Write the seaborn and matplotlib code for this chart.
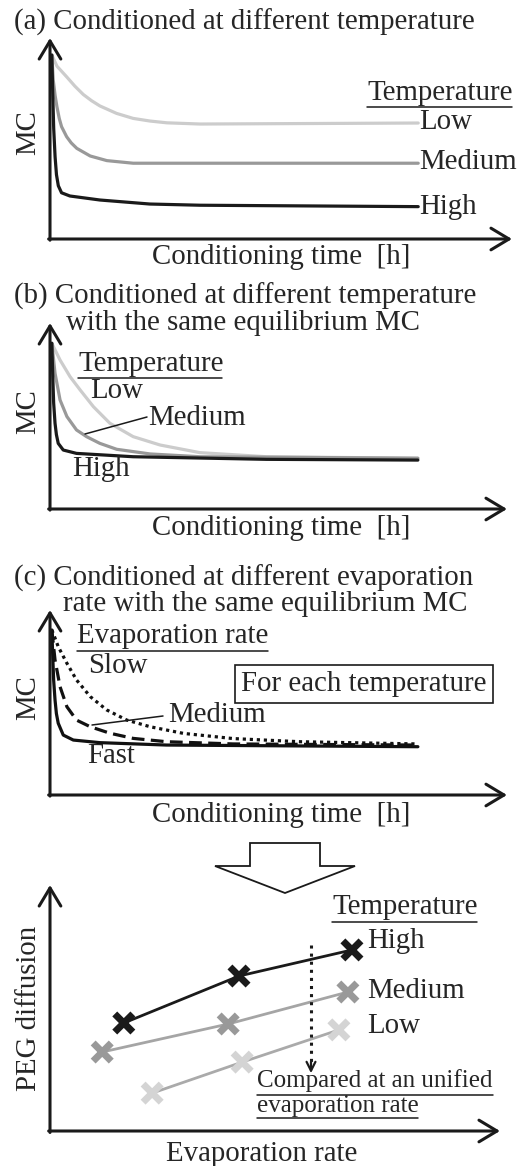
import numpy as np
import pandas as pd
import matplotlib
matplotlib.use("Agg")
import matplotlib.pyplot as plt
import seaborn as sns
from matplotlib.lines import Line2D
from matplotlib.patches import Polygon

# ---------------- data ----------------
# Panel (a): MC vs conditioning time at different temperature
a_low_t = [0.4, 1.5, 3.6, 5.4, 7.2, 9.0, 10.8, 14.4, 18.0, 21.6, 25.3, 32.5, 79.7]
a_low_mc = [91.5, 86.0, 80.7, 76.0, 71.9, 68.8, 66.2, 62.5, 60.0, 58.7, 57.8, 57.2, 57.7]
a_med_t = [0.4, 0.7, 1.1, 1.5, 2.0, 2.5, 3.6, 4.6, 5.8, 8.7, 12.3, 18.0, 79.7]
a_med_mc = [91.5, 79.1, 71.5, 65.8, 60.0, 55.9, 50.9, 47.8, 45.1, 41.3, 39.0, 37.7, 37.7]
a_high_t = [0.4, 0.6, 0.8, 1.1, 1.4, 1.8, 2.5, 4.3, 10.8, 21.6, 32.5, 79.7]
a_high_mc = [91.5, 72.0, 55.0, 40.9, 32.0, 26.5, 23.0, 21.4, 19.4, 17.4, 16.8, 16.1]

# Panel (b): same equilibrium MC
b_low_t = [0.4, 2.2, 4.4, 6.6, 9.5, 13.1, 18.2, 24.1, 32.8, 47.4, 80.5]
b_low_mc = [89.1, 80.1, 71.1, 64.0, 55.0, 46.1, 38.9, 34.4, 30.3, 28.1, 27.3]
b_med_t = [0.4, 1.1, 2.2, 3.7, 5.8, 8.0, 10.9, 14.6, 21.9, 32.8, 80.5]
b_med_mc = [89.1, 73.0, 58.6, 49.7, 42.5, 38.9, 35.3, 32.1, 29.6, 28.1, 27.3]
b_high_t = [0.4, 0.6, 0.8, 1.1, 1.4, 1.8, 2.9, 5.8, 18.2, 47.4, 80.5]
b_high_mc = [89.1, 72.0, 57.0, 46.1, 40.0, 35.3, 31.7, 29.9, 28.1, 26.7, 26.3]

# Panel (c): different evaporation rate
c_slow_t = [0.4, 0.7, 1.8, 3.7, 5.8, 8.8, 12.4, 16.8, 21.9, 29.2, 40.1, 54.7, 80.5]
c_slow_mc = [89.2, 87.4, 80.2, 71.2, 62.2, 53.2, 46.0, 40.5, 36.9, 33.3, 30.5, 28.8, 27.6]
c_med_t = [0.4, 1.1, 2.2, 3.7, 5.8, 8.8, 13.1, 18.2, 25.5, 40.1, 80.5]
c_med_mc = [89.2, 73.0, 58.5, 47.7, 40.5, 36.9, 33.4, 30.6, 28.8, 27.6, 27.0]
c_fast_t = [0.4, 0.6, 0.8, 1.1, 1.4, 1.8, 2.9, 5.1, 10.9, 25.5, 80.5]
c_fast_mc = [89.2, 75.0, 62.0, 51.4, 44.0, 38.8, 32.4, 29.7, 28.3, 27.0, 26.1]

# Panel (d): PEG diffusion vs evaporation rate
d_high_rate = [16.4, 42.0, 67.1]
d_high_peg = [43.9, 63.0, 73.6]
d_med_rate = [11.6, 39.6, 66.2]
d_med_peg = [32.1, 43.5, 56.5]
d_low_rate = [22.7, 42.7, 64.2]
d_low_peg = [15.4, 28.0, 41.1]
unified_rate = 58.0

temps = ["Low", "Medium", "High"]
rates = ["Slow", "Medium", "Fast"]

# ---------------- styling ----------------
sns.set_theme(style="white")
plt.rcParams["font.family"] = ["Liberation Serif", "DejaVu Serif"]
W, H = 532, 1166
fig = plt.figure(figsize=(W / 100, H / 100), dpi=100)
fig.patch.set_facecolor("white")

FS = 20.8
temp_pal = {"Low": "#cccccc", "Medium": "#999999", "High": "#1a1a1a"}


def px_axes(x0, yb, x1, yt):
    ax = fig.add_axes([x0 / W, 1 - yb / H, (x1 - x0) / W, (yb - yt) / H])
    ax.set_xlim(0, 100)
    ax.set_ylim(0, 100)
    ax.axis("off")
    # axis arrows
    ax.annotate("", xy=(100, 0), xytext=(-0.3, 0),
                arrowprops=dict(arrowstyle="->,head_length=0.5,head_width=0.3", lw=2.2,
                                color="k", mutation_scale=26, shrinkA=0, shrinkB=0))
    ax.annotate("", xy=(0, 100), xytext=(0, -0.6),
                arrowprops=dict(arrowstyle="->,head_length=0.5,head_width=0.3", lw=2.2,
                                color="k", mutation_scale=26, shrinkA=0, shrinkB=0))
    return ax


def ftext(x, y, s, **kw):
    kw.setdefault("fontsize", FS)
    kw.setdefault("va", "center")
    kw.setdefault("ha", "left")
    return fig.text(x / W, 1 - y / H, s, **kw)


def fline(x0, y0, x1, y1, lw=1.1, **kw):
    fig.add_artist(Line2D([x0 / W, x1 / W], [1 - y0 / H, 1 - y1 / H], color="k", lw=lw, **kw))


def long_df(ts, vs, names, key):
    rows = []
    for t, v, n in zip(ts, vs, names):
        for ti, vi in zip(t, v):
            rows.append({"t": ti, "mc": vi, key: n})
    return pd.DataFrame(rows)


# ---------------- panel (a) ----------------
ax = px_axes(50, 239, 512, 38)
dfa = long_df([a_low_t, a_med_t, a_high_t], [a_low_mc, a_med_mc, a_high_mc], temps, "Temperature")
sns.lineplot(data=dfa, x="t", y="mc", hue="Temperature", palette=temp_pal, estimator=None,
             sort=False, lw=2.3, legend=False, ax=ax, clip_on=False)
ftext(14, 22, "(a) Conditioned at different temperature")
ftext(28, 133, "MC", rotation=90, ha="center")
ftext(281, 257, "Conditioning time  [h]", ha="center")
ftext(367, 93, "Temperature")
fline(367, 107, 512, 107)
ftext(419, 122, "Low")
ftext(419, 162, "Medium")
ftext(419, 207, "High")

# ---------------- panel (b) ----------------
ax = px_axes(50, 509, 507, 323)
dfb = long_df([b_low_t, b_med_t, b_high_t], [b_low_mc, b_med_mc, b_high_mc], temps, "Temperature")
sns.lineplot(data=dfb, x="t", y="mc", hue="Temperature", palette=temp_pal, estimator=None,
             sort=False, lw=2.3, legend=False, ax=ax, clip_on=False)
ftext(14, 296, "(b) Conditioned at different temperature")
ftext(66, 323, "with the same equilibrium MC")
ftext(28, 412, "MC", rotation=90, ha="center")
ftext(281, 528, "Conditioning time  [h]", ha="center")
ftext(78, 364, "Temperature")
fline(78, 378, 222, 378)
ftext(90, 391, "Low")
ftext(148, 418, "Medium")
fline(85, 434, 147, 417)
ftext(72, 469, "High")

# ---------------- panel (c) ----------------
ax = px_axes(50, 795, 507, 610)
dfc = long_df([c_slow_t, c_med_t, c_fast_t], [c_slow_mc, c_med_mc, c_fast_mc], rates, "Rate")
sns.lineplot(data=dfc, x="t", y="mc", style="Rate", color="#111111",
             dashes={"Slow": (1, 1.2), "Medium": (4, 2), "Fast": ""},
             estimator=None, sort=False, lw=2.3, legend=False, ax=ax, clip_on=False)
ftext(14, 578, "(c) Conditioned at different evaporation")
ftext(63, 604, "rate with the same equilibrium MC")
ftext(28, 698, "MC", rotation=90, ha="center")
ftext(281, 815, "Conditioning time  [h]", ha="center")
ftext(77, 636, "Evaporation rate")
fline(77, 651, 268, 651)
ftext(88, 666, "Slow")
ftext(168, 715, "Medium")
fline(92, 725, 163, 716)
ftext(87, 756, "Fast")
ftext(364, 684, "For each temperature", ha="center",
      bbox=dict(boxstyle="square,pad=0.2", fc="white", ec="k", lw=1.2))

# ---------------- block arrow ----------------
arrow_pts = [(250, 843), (320, 843), (320, 866), (355, 866), (285, 893),
             (215, 866), (250, 866)]
fig.add_artist(Polygon([(x / W, 1 - y / H) for x, y in arrow_pts], closed=True,
                       fc="white", ec="k", lw=1.3, transform=fig.transFigure))

# ---------------- panel (d) ----------------
ax = px_axes(50, 1131, 500, 885)
dfd = pd.DataFrame({
    "rate": d_high_rate + d_med_rate + d_low_rate,
    "peg": d_high_peg + d_med_peg + d_low_peg,
    "Temperature": ["High"] * 3 + ["Medium"] * 3 + ["Low"] * 3,
})
line_pal = {"High": "#1a1a1a", "Medium": "#a5a5a5", "Low": "#aaaaaa"}
mark_pal = {"High": "#1a1a1a", "Medium": "#999999", "Low": "#d4d4d4"}
sns.lineplot(data=dfd, x="rate", y="peg", hue="Temperature", palette=line_pal,
             estimator=None, sort=False, lw=2.0, legend=False, ax=ax)
sns.scatterplot(data=dfd, x="rate", y="peg", hue="Temperature", palette=mark_pal,
                marker="x", s=170, linewidth=5, legend=False, ax=ax, zorder=3)
ax.plot([unified_rate, unified_rate], [75.6, 27], ls=":", lw=2.2, color="k")
ax.annotate("", xy=(unified_rate, 23.5), xytext=(unified_rate, 28),
            arrowprops=dict(arrowstyle="->", lw=1.6, color="k", mutation_scale=16,
                            shrinkA=0, shrinkB=0))
ftext(29, 1008, "PEG diffusion", rotation=90, ha="center")
ftext(262, 1154, "Evaporation rate", ha="center")
ftext(332, 907, "Temperature")
fline(332, 922, 477, 922)
ftext(367, 941, "High")
ftext(367, 991, "Medium")
ftext(367, 1026, "Low")
ftext(257, 1081, "Compared at an unified", fontsize=18)
fline(257, 1095, 493, 1095)
ftext(257, 1106, "evaporation rate", fontsize=18)
fline(257, 1118, 418, 1118)

fig.savefig("out.png", dpi=100, facecolor="white")
